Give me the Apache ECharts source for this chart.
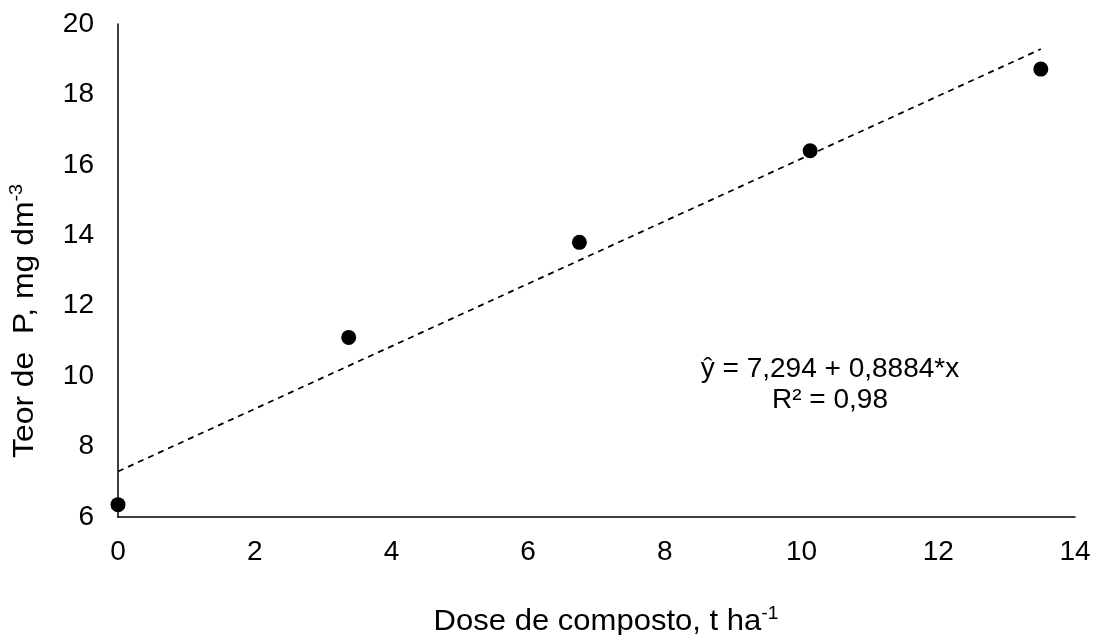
<!DOCTYPE html>
<html>
<head>
<meta charset="utf-8">
<script src="https://cdn.jsdelivr.net/npm/echarts@6/dist/echarts.min.js"></script>
<style>
  html, body { margin: 0; padding: 0; background: #fff; }
  #chart { width: 1100px; height: 635px; }
</style>
</head>
<body>
<div id="chart"></div>
<script>
    var doses = [0, 3.375, 6.75, 10.125, 13.5];
    var teorP = [6.35, 11.1, 13.8, 16.4, 18.72];
    var trendX = [0, 13.5];
    var trendY = [7.294, 19.288];
    var xTicks = [0, 2, 4, 6, 8, 10, 12, 14];
    var yTicks = [6, 8, 10, 12, 14, 16, 18, 20];

    var font = 'Liberation Sans, Arial, sans-serif';
    var chart = echarts.init(document.getElementById('chart'));

    // rich styles for titles with a superscript
    var titleRich = {
        t: { fontSize: 29, lineHeight: 34, fill: '#000', fontFamily: font },
        s: { fontSize: 18, lineHeight: 20, fill: '#000', fontFamily: font, verticalAlign: 'top' }
    };

    chart.setOption({
        animation: false,
        grid: { left: 118, right: 25, top: 24, bottom: 118 },
        xAxis: {
            type: 'value',
            min: xTicks[0], max: xTicks[xTicks.length - 1], interval: 2,
            axisLine: { lineStyle: { color: '#000', width: 1.5 } },
            axisTick: { show: false },
            splitLine: { show: false },
            axisLabel: { color: '#000', fontSize: 28, fontFamily: font, margin: 21 }
        },
        yAxis: {
            type: 'value',
            min: yTicks[0], max: yTicks[yTicks.length - 1], interval: 2,
            axisLine: { show: true, lineStyle: { color: '#000', width: 1.5 } },
            axisTick: { show: false },
            splitLine: { show: false },
            axisLabel: { color: '#000', fontSize: 28, fontFamily: font, margin: 24 }
        },
        series: [
            {
                type: 'line',
                data: trendX.map(function (x, i) { return [x, trendY[i]]; }),
                symbol: 'none',
                lineStyle: { color: '#000', width: 1.75, type: [6, 5] },
                z: 1
            },
            {
                type: 'scatter',
                data: doses.map(function (x, i) { return [x, teorP[i]]; }),
                symbolSize: 15,
                itemStyle: { color: '#000', opacity: 1 },
                z: 3
            }
        ],
        graphic: [
            {
                type: 'text',
                x: 830,
                y: 354,
                style: {
                    text: 'ŷ = 7,294 + 0,8884*x\nR² = 0,98',
                    align: 'center',
                    verticalAlign: 'top',
                    fontSize: 28,
                    lineHeight: 31,
                    fontFamily: font,
                    fill: '#000'
                }
            },
            {
                type: 'text',
                x: 606,
                y: 622,
                scaleX: 1.07,
                style: {
                    text: '{t|Dose de composto, t ha}{s|-1}',
                    align: 'center',
                    verticalAlign: 'middle',
                    rich: titleRich
                }
            },
            {
                type: 'text',
                x: 25,
                y: 321,
                rotation: Math.PI / 2,
                scaleX: 1.1,
                style: {
                    text: '{t|Teor de  P, mg dm}{s|-3}',
                    align: 'center',
                    verticalAlign: 'middle',
                    rich: titleRich
                }
            }
        ]
    });
</script>
</body>
</html>
